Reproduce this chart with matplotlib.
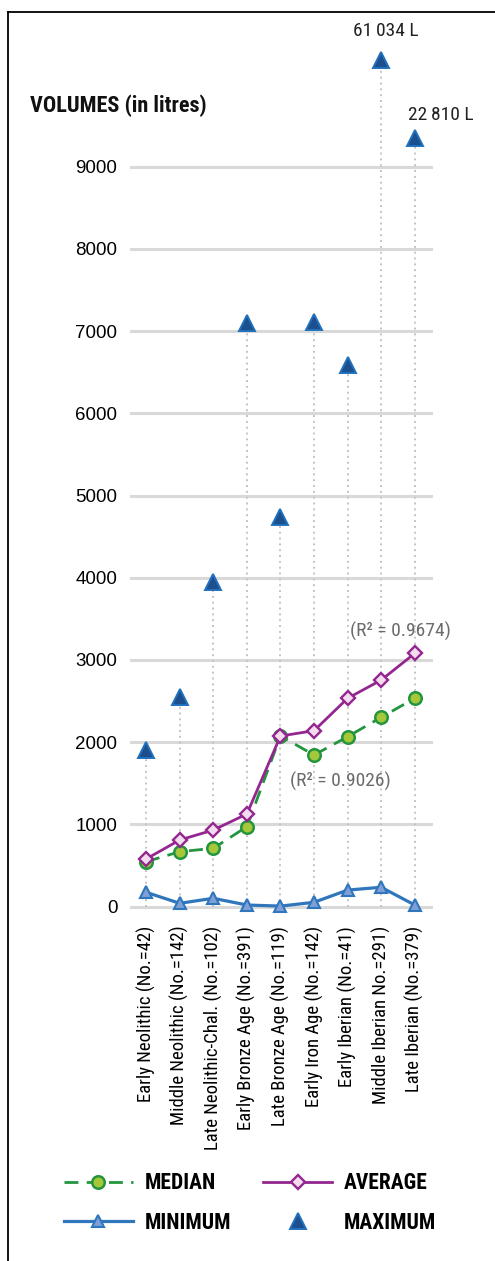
import numpy as np
import matplotlib
matplotlib.use("Agg")
import matplotlib.pyplot as plt
import matplotlib.font_manager as fm
from matplotlib.lines import Line2D

# ---------------- data ----------------
periods = [
    "Early Neolithic (No.=42)",
    "Middle Neolithic (No.=142)",
    "Late Neolithic-Chal. (No.=102)",
    "Early Bronze Age (No.=391)",
    "Late Bronze Age (No.=119)",
    "Early Iron Age (No.=142)",
    "Early Iberian (No.=41)",
    "Middle Iberian No.=291)",
    "Late Iberian (No.=379)",
]
median_vals = [545, 667, 708, 971, 2074, 1843, 2066, 2302, 2533]
average_vals = [578, 809, 930, 1125, 2074, 2139, 2533, 2755, 3080]
minimum_vals = [173, 39, 100, 18, 5, 51, 200, 234, 18]
maximum_vals = [1904, 2552, 3951, 7098, 4735, 7114, 6588, 61034, 22810]
yticks = [0, 1000, 2000, 3000, 4000, 5000, 6000, 7000, 8000, 9000]
r2_labels = ["(R\u00b2 = 0.9674)", "(R\u00b2 = 0.9026)"]
offscale_labels = {7: "61\u2009034 L", 8: "22\u2009810 L"}

# ---------------- fonts ----------------
names = {f.name for f in fm.fontManager.ttflist}
cond = "DejaVu Sans"
for cand in ["Liberation Sans Narrow", "Roboto Condensed", "Open Sans Condensed"]:
    if cand in names:
        cond = cand
        break
plain = "Liberation Sans" if "Liberation Sans" in names else "DejaVu Sans"
cfam = [cond, "DejaVu Sans"]

# ---------------- figure ----------------
fig = plt.figure(figsize=(4.95, 12.61), dpi=100)
ax = fig.add_axes([0.2626, 0.2746, 0.612, 0.6975])

BREAK, K = 9000.0, 0.025
def fwd(v):
    v = np.asarray(v, float)
    return np.where(v <= BREAK, v, BREAK + (v - BREAK) * K)
def inv(d):
    d = np.asarray(d, float)
    return np.where(d <= BREAK, d, BREAK + (d - BREAK) / K)
ax.set_yscale("function", functions=(fwd, inv))

x = np.arange(len(periods))

ax.vlines(x, 0, maximum_vals, colors="#c4c4c4", linestyles=(0, (1, 2)), lw=1.4, zorder=1)

l_min, = ax.plot(x, minimum_vals, "-^", color="#2f76bd", lw=2.3, ms=8.5,
                 mfc="#7f9fd6", mec="#2f76bd", mew=1.5, zorder=3, clip_on=False)
l_med, = ax.plot(x, median_vals, "--o", color="#23953f", lw=2.0, ms=9,
                 mfc="#a5c83a", mec="#23953f", mew=1.8, dashes=(5, 3), zorder=4)
l_avg, = ax.plot(x, average_vals, "-D", color="#93278f", lw=2.0, ms=7,
                 mfc="#f4dcef", mec="#93278f", mew=1.7, zorder=5)
l_max, = ax.plot(x, maximum_vals, "^", ls="none", ms=11,
                 mfc="#1c4f8e", mec="#2171bd", mew=1.4, zorder=5, clip_on=False)

ax.set_xlim(-0.48, 8.54)
ax.set_ylim(-100, float(inv(10600)))
ax.set_yticks(yticks)
ax.set_yticklabels([str(t) for t in yticks], fontfamily=plain, fontsize=13.5)
ax.set_xticks(x)
ax.set_xticklabels(periods, rotation=90, fontfamily=cfam, fontstretch="condensed",
                   fontsize=13.5, va="top", ha="center")
ax.tick_params(axis="both", length=0)
ax.tick_params(axis="y", pad=9)
ax.tick_params(axis="x", pad=8)
ax.yaxis.grid(True, color="#d9d9d9", lw=2.2)
ax.set_axisbelow(True)
for s in ax.spines.values():
    s.set_visible(False)

# labels for off-scale maxima
for i, txt in offscale_labels.items():
    if i == 7:
        ax.annotate(txt, (x[i], maximum_vals[i]), xytext=(3, 14), textcoords="offset points",
                    ha="center", va="bottom", fontfamily=cfam, fontstretch="condensed",
                    fontsize=14, color="#222222")
    else:
        ax.annotate(txt, (x[i], maximum_vals[i]), xytext=(-5, 10), textcoords="offset points",
                    ha="left", va="bottom", fontfamily=cfam, fontstretch="condensed",
                    fontsize=14, color="#222222")

# R^2 labels
ax.annotate(r2_labels[0], (x[8], average_vals[8]), xytext=(-10, 16), textcoords="offset points",
            ha="center", va="center", fontfamily=cfam, fontstretch="condensed",
            fontsize=14, color="#6b6b6b")
ax.annotate(r2_labels[1], (x[5], median_vals[5]), xytext=(19, -19), textcoords="offset points",
            ha="center", va="center", fontfamily=cfam, fontstretch="condensed",
            fontsize=14, color="#6b6b6b")

# title
fig.text(30 / 495, 1 - 106 / 1261, "VOLUMES (in litres)", ha="left", va="center",
         fontfamily=cfam, fontstretch="condensed", fontweight="bold", fontsize=16,
         color="#111111")

# legend
leg = fig.legend([l_med, l_min, l_avg, l_max], ["MEDIAN", "MINIMUM", "AVERAGE", "MAXIMUM"],
                 ncol=2, loc="center", bbox_to_anchor=(0.505, 1 - 1203 / 1261),
                 frameon=False, handlelength=3.2, handletextpad=0.55, columnspacing=1.5,
                 labelspacing=0.8,
                 prop=fm.FontProperties(family=cfam, stretch="condensed", weight="bold", size=15.5))

# frame lines
fig.add_artist(Line2D([8 / 495, 8 / 495], [0, 1 - 12 / 1261], transform=fig.transFigure,
                      color="black", lw=1.3))
fig.add_artist(Line2D([8 / 495, 1], [1 - 12 / 1261, 1 - 12 / 1261], transform=fig.transFigure,
                      color="black", lw=1.3))

fig.savefig("out.png", dpi=100, facecolor="white")
